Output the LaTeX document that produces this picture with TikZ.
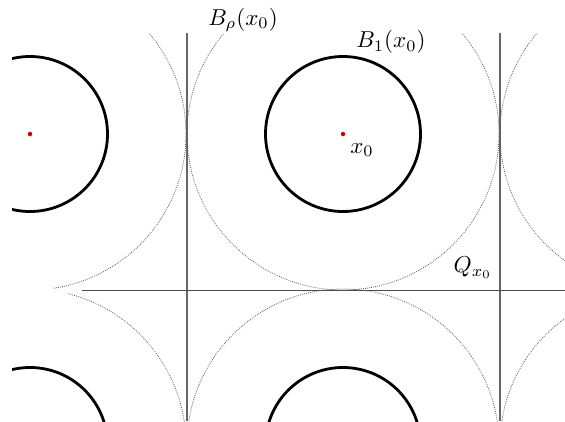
\documentclass[tikz,border=0pt]{standalone}
\usepackage{graphicx}
\newcommand{\bigmath}[1]{\scalebox{2.3}{$#1$}}
\begin{document}
\begin{tikzpicture}[x=1pt,y=-1pt,
  thickball/.style={line width=2.8pt,black},
  bigball/.style={line width=0.8pt,black!65,dash pattern=on 0.8pt off 1.2pt},
  gridline/.style={line width=1.3pt,black!60},
  hline/.style={line width=1pt,black!70},
  lbl/.style={inner sep=0pt},
  ctr/.style={fill=red!80!black,circle,inner sep=0pt,minimum size=4.5pt}]
\useasboundingbox (0,0) rectangle (565,421);
% centres
\coordinate (A) at (30,134);
\coordinate (B) at (343,134);
\coordinate (C) at (656,134);
\coordinate (D) at (30,445);
\coordinate (E) at (343,445);
\coordinate (F) at (656,445);
% grid lines
\coordinate (v1t) at (187,33); \coordinate (v1b) at (187,421);
\coordinate (v2t) at (500,33); \coordinate (v2b) at (500,421);
\coordinate (hl) at (82,290); \coordinate (hr) at (565,290);
\draw[gridline] (v1t) -- (v1b);
\draw[gridline] (v2t) -- (v2b);
\draw[hline] (hl) -- (hr);
% dotted balls B_rho
\begin{scope}
\clip (0,33) rectangle (565,421);
\draw[bigball] (B) circle[radius=156];
\draw[bigball] (C) circle[radius=156];
\draw[bigball] (E) circle[radius=156];
\draw[bigball] (F) circle[radius=156];
\end{scope}
\begin{scope}
\clip (53,33) rectangle (565,421);
\draw[bigball] (A) circle[radius=156];
\end{scope}
\begin{scope}
\clip (68,33) rectangle (565,421);
\draw[bigball] (D) circle[radius=156];
\end{scope}
% thick balls B_1
\begin{scope}
\clip (12,33) rectangle (565,421);
\draw[thickball] (A) circle[radius=77.5];
\draw[thickball] (B) circle[radius=77.5];
\draw[thickball] (D) circle[radius=77.5];
\draw[thickball] (E) circle[radius=77.5];
\end{scope}
% centre points
\node[ctr] (pA) at (A) {};
\node[ctr] (pB) at (B) {};
% labels
\node[lbl] (lrho) at (243,20) {\bigmath{B_\rho(x_0)}};
\node[lbl] (lone) at (391,42) {\bigmath{B_1(x_0)}};
\node[lbl] (lx) at (362,150) {\bigmath{x_0}};
\node[lbl] (lq) at (473,268) {\bigmath{Q_{x_0}}};
\end{tikzpicture}
\end{document}
